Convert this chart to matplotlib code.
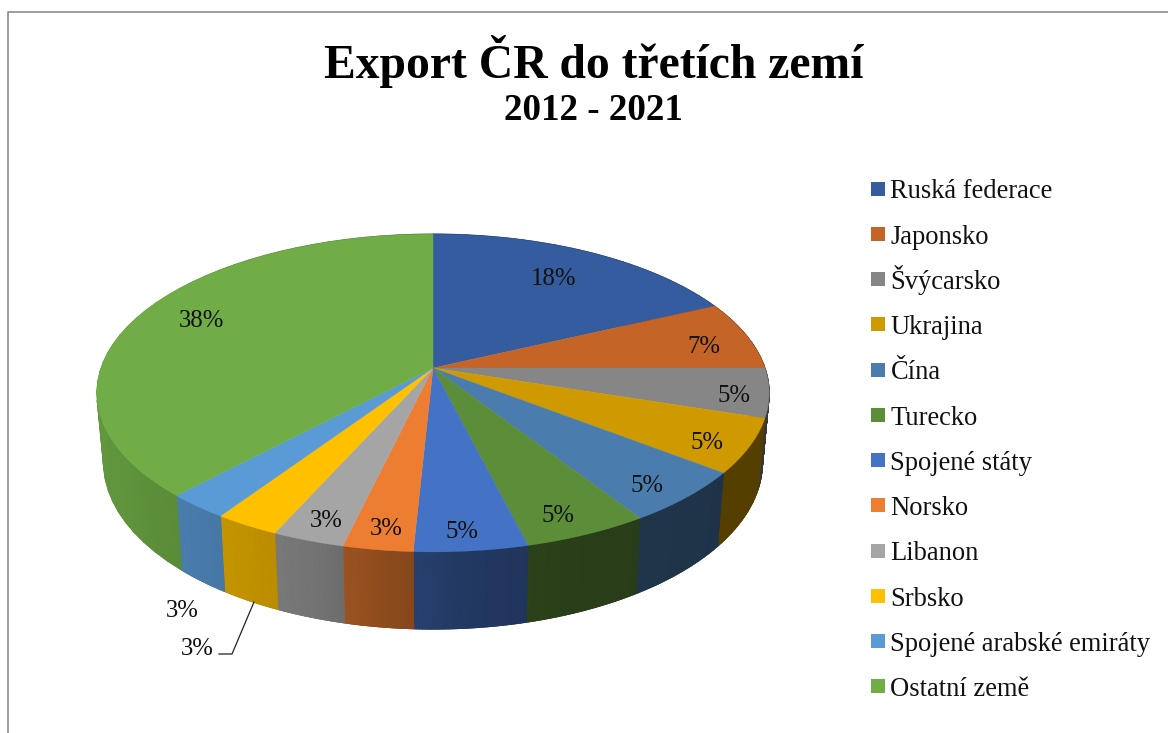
import matplotlib; matplotlib.use("Agg")
import matplotlib.pyplot as plt
import matplotlib.colors as mcolors
from matplotlib.patches import Rectangle
import numpy as np

plt.rcParams['font.family'] = ['Liberation Serif', 'DejaVu Serif']

countries = ["Ruská federace", "Japonsko", "Švýcarsko", "Ukrajina", "Čína", "Turecko",
             "Spojené státy", "Norsko", "Libanon", "Srbsko",
             "Spojené arabské emiráty", "Ostatní země"]
shares = [18.0, 7.0, 5.0, 5.49, 5.41, 5.2, 4.7, 2.9, 3.0, 2.7, 2.6, 38.0]
colors = ["#355c9f", "#c46427", "#868686", "#cf9a00", "#4a7dad", "#5c8d38",
          "#4472c4", "#ed7d31", "#a5a5a5", "#ffc000", "#5b9bd5", "#70ad47"]

# percent label anchors, pixels
label_x = [554, 704, 734, 707, 647, 558, 462, 386, 326, 182, 197, 201]
label_y = [279, 347, 396, 443, 486, 516, 532, 529, 521, 611, 649, 321]

# pie geometry (pixels), slight perspective so apex sits above the ellipse centre
CX, CY = 433, 368
PERSP, SY, SX = 0.157, 155, 332


def top_xy(frac):
    """Fraction of the pie (clockwise from 12 o'clock) -> rim point of the top face."""
    a = 2 * np.pi * np.asarray(frac)
    u, v = np.sin(a), np.cos(a)
    w = 1 + PERSP * v
    return SX * u / w, SY * v / w


def wall_shade(x):
    # side wall gets darker going from left to right
    return np.interp(x, [-335, -250, -120, -50, 30, 150, 300], [.87, .80, .70, .60, .50, .44, .41])


fig = plt.figure(figsize=(11.68, 7.33), dpi=100)
ax = fig.add_axes([0, 0, 1, 1])
ax.set_xlim(0, 1168)
ax.set_ylim(733, 0)
ax.axis("off")

edges = np.concatenate([[0], np.cumsum(shares)]) / 100

# side walls first, top face is painted over them
for start, end, col in zip(edges[:-1], edges[1:], colors):
    rgb = np.array(mcolors.to_rgb(col))
    cmap = mcolors.LinearSegmentedColormap.from_list("wall", [(0, 0, 0), rgb])
    fr = np.linspace(start, end, 40)
    x, y = top_xy(fr)
    xb, yb = x * 0.98, y * 1.05 - 68
    X = np.vstack([CX + x, CX + xb])
    Y = np.vstack([CY - y, CY - yb])
    shade = wall_shade(x)
    ax.pcolormesh(X, Y, np.vstack([shade, shade]), cmap=cmap, vmin=0, vmax=1,
                  shading="gouraud", zorder=2)
    # smooth the lower rim
    for i in range(len(fr) - 1):
        ax.plot(X[1, i:i + 2], Y[1, i:i + 2], color=rgb * shade[i], lw=0.7,
                solid_capstyle="round", zorder=2)

for start, end, col in zip(edges[:-1], edges[1:], colors):
    fr = np.linspace(start, end, 60)
    x, y = top_xy(fr)
    ax.fill(np.r_[CX, CX + x], np.r_[CY, CY - y], color=col, lw=0.3, zorder=3)

for val, lx, ly in zip(shares, label_x, label_y):
    ax.text(lx, ly, f"{round(val)}%", fontsize=17.8, ha="center", va="center", color="#111111", zorder=5)

# leader line for Srbsko
ax.plot([254, 232, 219], [602, 654, 654], color="#222222", lw=0.9, zorder=5)

ax.text(594, 62, "Export ČR do třetích zemí", fontsize=34.3, fontweight="bold",
        ha="center", va="center", color="black")
ax.text(593.5, 110, "2012 - 2021", fontsize=26.7, fontweight="bold",
        ha="center", va="center", color="black")

# chart frame, only top and left are inside the crop
ax.plot([8, 8, 1168], [733, 12, 12], color="#8c8c8c", lw=1.2, zorder=1)

# legend rows
for i, (name, col) in enumerate(zip(countries, colors)):
    top = 181.7 + i * 45.25
    ax.add_patch(Rectangle((871, top), 14, 14, facecolor=col, edgecolor="none", zorder=4))
    ax.text(890.5, top + 16.6, name, fontsize=19.1, ha="left", va="baseline", color="#111111")

fig.savefig("out.png", dpi=100)
